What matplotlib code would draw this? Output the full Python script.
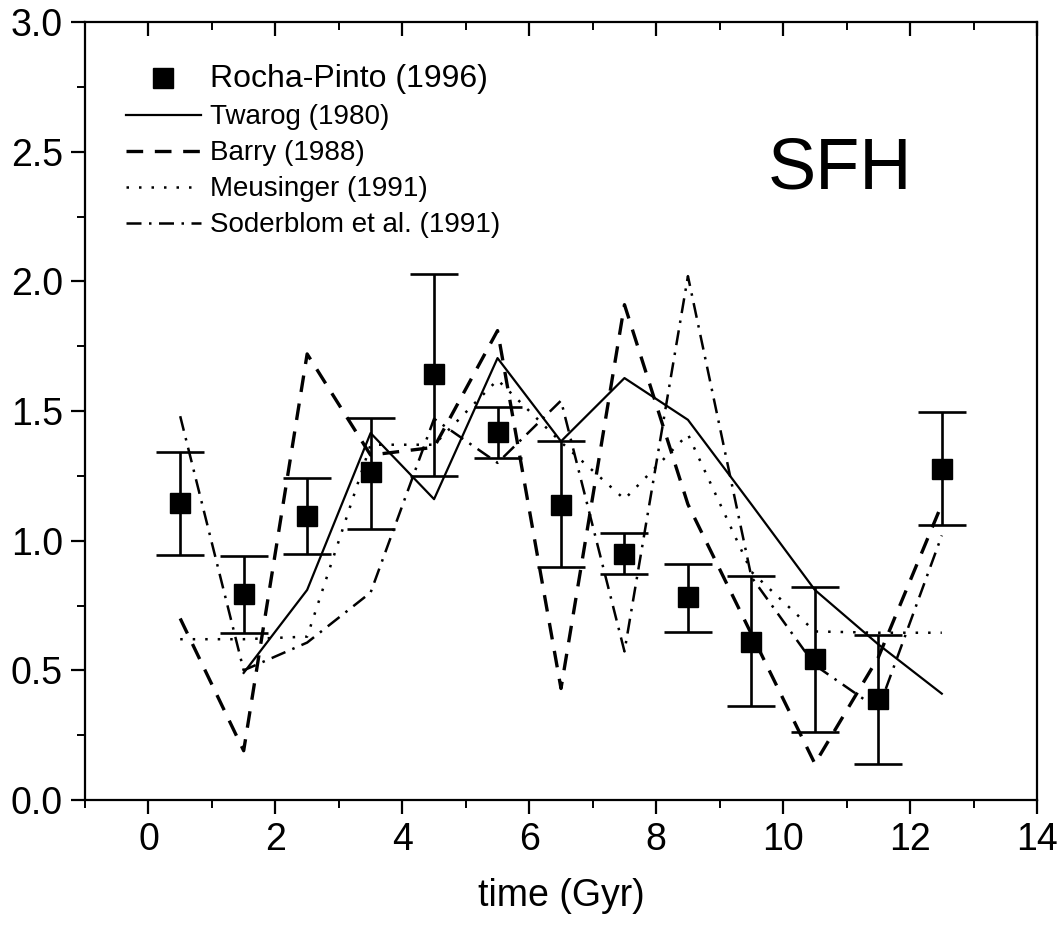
import matplotlib
matplotlib.use("Agg")
import matplotlib.pyplot as plt
from matplotlib.lines import Line2D
from matplotlib.ticker import MultipleLocator

plt.rcParams['font.family'] = ['Liberation Sans', 'DejaVu Sans']

# ---- data ----
t_rp = [0.5, 1.5, 2.5, 3.5, 4.5, 5.5, 6.5, 7.5, 8.5, 9.5, 10.5, 11.5, 12.5]
sfh_rp = [1.145, 0.796, 1.096, 1.264, 1.641, 1.418, 1.138, 0.95, 0.782, 0.608, 0.542, 0.388, 1.275]
sfh_rp_hi = [1.341, 0.939, 1.243, 1.473, 2.028, 1.515, 1.383, 1.031, 0.911, 0.862, 0.821, 0.638, 1.497]
sfh_rp_lo = [0.943, 0.645, 0.947, 1.045, 1.25, 1.32, 0.90, 0.873, 0.649, 0.363, 0.263, 0.14, 1.059]

t_twarog = [1.5, 2.5, 3.5, 4.5, 5.5, 6.5, 7.5, 8.5, 9.5, 10.5, 11.5, 12.5]
sfh_twarog = [0.49, 0.81, 1.415, 1.16, 1.704, 1.383, 1.627, 1.466, 1.14, 0.81, 0.60, 0.41]

t_models = [0.5, 1.5, 2.5, 3.5, 4.5, 5.5, 6.5, 7.5, 8.5, 9.5, 10.5, 11.5, 12.5]
sfh_barry = [0.70, 0.19, 1.72, 1.33, 1.36, 1.81, 0.43, 1.91, 1.14, 0.64, 0.14, 0.55, 1.14]
sfh_meusinger = [0.62, 0.62, 0.63, 1.37, 1.37, 1.62, 1.38, 1.16, 1.41, 0.88, 0.65, 0.645, 0.645]
sfh_soderblom = [1.48, 0.50, 0.607, 0.80, 1.47, 1.30, 1.54, 0.573, 2.02, 0.86, 0.52, 0.35, 1.02]

labels = ["Rocha-Pinto (1996)", "Twarog (1980)", "Barry (1988)",
          "Meusinger (1991)", "Soderblom et al. (1991)"]

# ---- figure ----
W, H = 1063, 926
fig = plt.figure(figsize=(W / 100, H / 100), dpi=100)
ax = fig.add_axes([85 / W, 1 - 800 / H, (1037 - 85) / W, (800 - 22) / H])

err_lo = [v - lo for v, lo in zip(sfh_rp, sfh_rp_lo)]
err_hi = [hi - v for v, hi in zip(sfh_rp, sfh_rp_hi)]

l_tw, = ax.plot(t_twarog, sfh_twarog, color='black', lw=1.6, ls='-')
l_ba, = ax.plot(t_models, sfh_barry, color='black', lw=2.4, ls=(0, (5, 3.5)))
l_me, = ax.plot(t_models, sfh_meusinger, color='black', lw=1.8, ls=(0, (1, 4)))
l_so, = ax.plot(t_models, sfh_soderblom, color='black', lw=1.8, ls=(0, (6, 3, 1, 3)))

ax.errorbar(t_rp, sfh_rp, yerr=[err_lo, err_hi], fmt='s', color='black',
            ms=14, mfc='black', mec='black', ecolor='black', elinewidth=1.9,
            capsize=17, capthick=1.9, zorder=5)

ax.set_xlim(-1, 14)
ax.set_ylim(0, 3.0)
ax.xaxis.set_major_locator(MultipleLocator(2))
ax.xaxis.set_minor_locator(MultipleLocator(1))
ax.yaxis.set_major_locator(MultipleLocator(0.5))
ax.yaxis.set_minor_locator(MultipleLocator(0.25))
ax.yaxis.set_major_formatter(matplotlib.ticker.FormatStrFormatter('%.1f'))

for s in ax.spines.values():
    s.set_linewidth(1.6)

ax.tick_params(axis='x', which='major', direction='out', length=10, width=1.6,
               labelsize=27, pad=6, top=True)
ax.tick_params(axis='x', which='minor', direction='out', length=6, width=1.4, top=True)
ax.tick_params(axis='y', which='major', direction='out', length=10, width=1.6,
               labelsize=27, pad=6)
ax.tick_params(axis='y', which='minor', direction='out', length=6, width=1.4)
# top ticks point inward
for tk in ax.xaxis.get_major_ticks() + ax.xaxis.get_minor_ticks():
    tk.tick2line.set_marker(matplotlib.lines.TICKDOWN)

ax.set_xlabel("time (Gyr)", fontsize=27, labelpad=14)

# legend
h_rp = Line2D([], [], ls='none', marker='s', ms=14, color='black')
leg = ax.legend([h_rp, l_tw, l_ba, l_me, l_so], labels, loc='upper left',
                bbox_to_anchor=(0.031, 0.96), frameon=False, fontsize=20,
                handlelength=2.7, handletextpad=0.35, labelspacing=0.36,
                borderaxespad=0)
leg.get_texts()[0].set_fontsize(23)

ax.text(0.793, 0.81, "SFH", transform=ax.transAxes, fontsize=52,
        ha='center', va='center')

fig.savefig("out.png", dpi=100)
